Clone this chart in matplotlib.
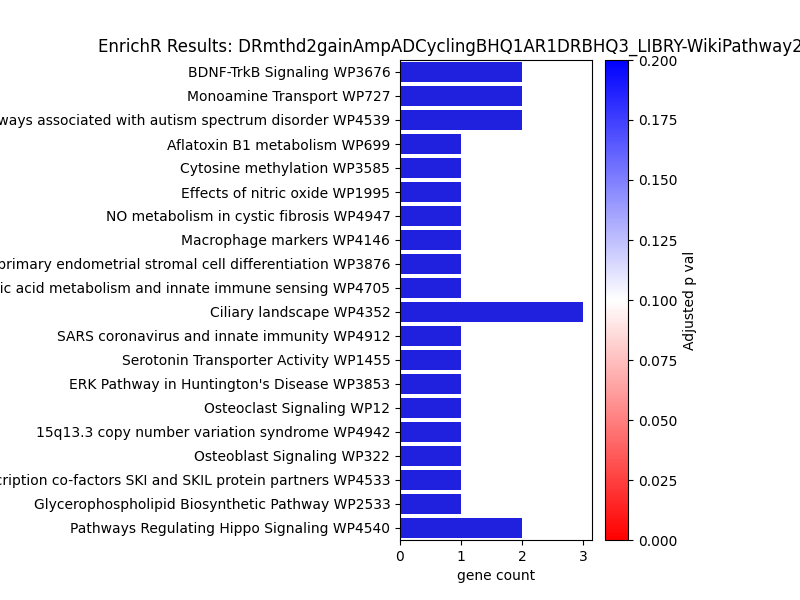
import colorsys
import matplotlib
matplotlib.use("Agg")
import matplotlib.pyplot as plt
import matplotlib.colors as mcolors
import numpy as np

terms = [
    "BDNF-TrkB Signaling WP3676",
    "Monoamine Transport WP727",
    "Synaptic signaling pathways associated with autism spectrum disorder WP4539",
    "Aflatoxin B1 metabolism WP699",
    "Cytosine methylation WP3585",
    "Effects of nitric oxide WP1995",
    "NO metabolism in cystic fibrosis WP4947",
    "Macrophage markers WP4146",
    "BMP2-WNT4-FOXO1 pathway in human primary endometrial stromal cell differentiation WP3876",
    "Pathways of nucleic acid metabolism and innate immune sensing WP4705",
    "Ciliary landscape WP4352",
    "SARS coronavirus and innate immunity WP4912",
    "Serotonin Transporter Activity WP1455",
    "ERK Pathway in Huntington's Disease WP3853",
    "Osteoclast Signaling WP12",
    "15q13.3 copy number variation syndrome WP4942",
    "Osteoblast Signaling WP322",
    "Transcription co-factors SKI and SKIL protein partners WP4533",
    "Glycerophospholipid Biosynthetic Pathway WP2533",
    "Pathways Regulating Hippo Signaling WP4540",
]
gene_count = [2, 2, 2, 1, 1, 1, 1, 1, 1, 1, 3, 1, 1, 1, 1, 1, 1, 1, 1, 2]
adj_pval = [0.31, 0.31, 0.31, 0.34, 0.34, 0.34, 0.34, 0.34, 0.34, 0.34,
            0.31, 0.34, 0.34, 0.34, 0.34, 0.34, 0.34, 0.34, 0.34, 0.34]

title = "EnrichR Results: DRmthd2gainAmpADCyclingBHQ1AR1DRBHQ3_LIBRY-WikiPathway2021Human"

cmap = plt.get_cmap("bwr_r")
norm = mcolors.Normalize(vmin=0, vmax=0.2)


def desat(c, prop=0.75):
    # same as seaborn's saturation=0.75
    h, l, s = colorsys.rgb_to_hls(*c[:3])
    return colorsys.hls_to_rgb(h, l, s * prop)


colors = [desat(cmap(norm(p))) for p in adj_pval]

fig = plt.figure(figsize=(8, 6), dpi=100)
ax = fig.add_axes([0.5, 0.1, 0.24, 0.8])
cax = fig.add_axes([0.756, 0.1, 0.029, 0.8])

y = np.arange(len(terms))
ax.barh(y, gene_count, height=0.8, color=colors)
ax.set_yticks(y)
ax.set_yticklabels(terms)
ax.set_ylim(len(terms) - 0.5, -0.5)
ax.set_xlabel("gene count")
ax.set_title(title)

sm = matplotlib.cm.ScalarMappable(cmap=cmap, norm=norm)
cb = fig.colorbar(sm, cax=cax)
cb.set_label("Adjusted p val", labelpad=4)

fig.savefig("out.png", dpi=100)
